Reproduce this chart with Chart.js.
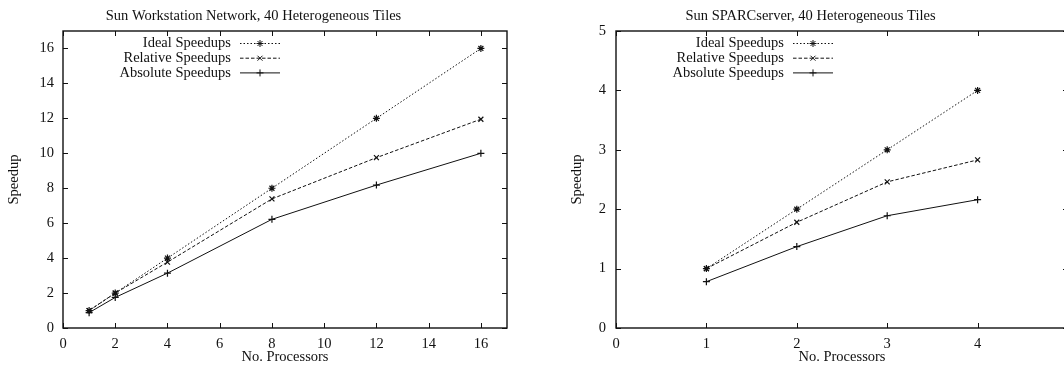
<!DOCTYPE html>
<html>
<head>
<meta charset="utf-8">
<title>Speedups</title>
<script src="https://cdn.jsdelivr.net/npm/chart.js@4.4.0/dist/chart.umd.min.js"></script>
<style>
  html, body { margin: 0; padding: 0; background: #fff; overflow: hidden; }
  body { width: 1064px; height: 365px; position: relative; }
  canvas { position: absolute; top: 0; }
  #ws-chart { left: 0; }
  #sp-chart { left: 553px; }
</style>
</head>
<body>
<canvas id="ws-chart" width="570" height="365"></canvas>
<canvas id="sp-chart" width="578" height="365"></canvas>
<script>
// ---- DATA ----
// Sun workstation network
const procsWS    = [1, 2, 4, 8, 12, 16];
const idealWS    = [1, 2, 4, 8, 12, 16];
const relativeWS = [1.0, 2.0, 3.77, 7.39, 9.75, 11.95];
const absoluteWS = [0.88, 1.75, 3.14, 6.22, 8.18, 10.0];

// Sun SPARCserver
const procsSP    = [1, 2, 3, 4];
const idealSP    = [1, 2, 3, 4];
const relativeSP = [1.0, 1.78, 2.46, 2.83];
const absoluteSP = [0.78, 1.37, 1.89, 2.16];

const seriesNames = ['Ideal Speedups', 'Relative Speedups', 'Absolute Speedups'];
const titleWS = 'Sun Workstation Network, 40 Heterogeneous Tiles';
const titleSP = 'Sun SPARCserver, 40 Heterogeneous Tiles';
const xTitle = 'No. Processors';
const yTitle = 'Speedup';

// ---- STYLE ----
const SERIF = "'Liberation Serif', 'Times New Roman', serif";
const FONT_SIZE = 14.5;
const INK = '#111';
const seriesLook = [
  { dash: [1.5, 2], point: 'star' },     // ideal: dotted
  { dash: [3.5, 2], point: 'crossRot' }, // relative: dashed
  { dash: [],       point: 'cross' }     // absolute: solid
];

// gnuplot style frame with inward ticks on all four sides
const gnuFrame = {
  id: 'gnuFrame',
  afterDraw(chart) {
    const { ctx, chartArea: a, scales: { x, y } } = chart;
    const tl = 5;
    ctx.save();
    ctx.strokeStyle = INK;
    ctx.lineWidth = 1;
    ctx.beginPath();
    x.ticks.forEach(t => {
      const px = Math.round(x.getPixelForValue(t.value)) + 0.5;
      ctx.moveTo(px, a.bottom); ctx.lineTo(px, a.bottom - tl);
      ctx.moveTo(px, a.top);    ctx.lineTo(px, a.top + tl);
    });
    y.ticks.forEach(t => {
      const py = Math.round(y.getPixelForValue(t.value)) + 0.5;
      ctx.moveTo(a.left, py);  ctx.lineTo(a.left + tl, py);
      ctx.moveTo(a.right, py); ctx.lineTo(a.right - tl, py);
    });
    ctx.stroke();
    ctx.lineWidth = 1.4;
    ctx.strokeRect(a.left, a.top, a.right - a.left, a.bottom - a.top);
    ctx.restore();
  }
};

// key: right aligned text, then line sample with marker
const gnuKey = {
  id: 'gnuKey',
  afterDatasetsDraw(chart) {
    const { ctx, chartArea: a } = chart;
    ctx.save();
    ctx.font = FONT_SIZE + 'px ' + SERIF;
    ctx.textAlign = 'right';
    ctx.textBaseline = 'middle';
    chart.data.datasets.forEach((ds, i) => {
      const yy = a.top + 12.5 + i * 14.7;
      ctx.fillStyle = INK;
      ctx.fillText(ds.label, a.left + 168, yy);
      ctx.strokeStyle = ds.borderColor;
      ctx.lineWidth = ds.borderWidth;
      ctx.setLineDash(ds.borderDash || []);
      ctx.beginPath();
      ctx.moveTo(a.left + 177, yy);
      ctx.lineTo(a.left + 217, yy);
      ctx.stroke();
      ctx.setLineDash([]);
      ctx.fillStyle = ds.pointBackgroundColor;
      Chart.helpers.drawPoint(ctx, {
        pointStyle: ds.pointStyle, radius: ds.pointRadius, borderWidth: ds.pointBorderWidth
      }, a.left + 197, yy);
    });
    ctx.restore();
  }
};

function buildDatasets(procs, seriesValues) {
  return seriesValues.map((vals, i) => ({
    label: seriesNames[i],
    data: procs.map((p, j) => ({ x: p, y: vals[j] })),
    borderColor: INK,
    borderWidth: 1,
    borderDash: seriesLook[i].dash,
    pointStyle: seriesLook[i].point,
    pointRadius: 3.5,
    pointBorderWidth: 1.2,
    pointBackgroundColor: INK,
    pointBorderColor: INK,
    tension: 0,
    fill: false
  }));
}

function makeChart(canvasId, opts) {
  const font = { family: SERIF, size: FONT_SIZE, weight: 'normal' };
  return new Chart(document.getElementById(canvasId), {
    type: 'line',
    data: { datasets: buildDatasets(opts.procs, opts.series) },
    plugins: [gnuFrame, gnuKey],
    options: {
      responsive: false,
      animation: false,
      layout: { padding: { left: 0, right: opts.padRight, top: 0, bottom: 0 } },
      plugins: {
        legend: { display: false },
        tooltip: { enabled: false },
        title: {
          display: true, text: opts.title, color: INK, font,
          padding: { top: 7.6, bottom: 6 }
        }
      },
      scales: {
        x: {
          type: 'linear', min: 0, max: opts.xMax,
          grid: { display: false, drawTicks: false }, border: { display: false },
          ticks: { stepSize: opts.xStep, includeBounds: false, padding: 7.5, color: INK, font, maxRotation: 0 },
          afterBuildTicks: s => { s.ticks = s.ticks.filter(t => t.value <= opts.xLast); },
          title: { display: true, text: xTitle, color: INK, font, padding: { top: 0, bottom: -0.5 } },
          afterFit: s => { s.height = 37; }
        },
        y: {
          type: 'linear', min: 0, max: opts.yMax,
          grid: { display: false, drawTicks: false }, border: { display: false },
          ticks: { stepSize: opts.yStep, includeBounds: false, padding: opts.yTickPad, color: INK, font },
          afterBuildTicks: s => { s.ticks = s.ticks.filter(t => t.value <= opts.yLast); },
          title: { display: true, text: yTitle, color: INK, font, padding: { top: opts.yTitlePad, bottom: 0 } },
          afterFit: s => { s.width = opts.yAxisWidth; }
        }
      }
    }
  });
}

makeChart('ws-chart', {
  procs: procsWS, series: [idealWS, relativeWS, absoluteWS], title: titleWS,
  xMax: 17, xStep: 2, xLast: 16, yMax: 17, yStep: 2, yLast: 16,
  yAxisWidth: 63, padRight: 63, yTickPad: 9, yTitlePad: 5.3
});

makeChart('sp-chart', {
  procs: procsSP, series: [idealSP, relativeSP, absoluteSP], title: titleSP,
  xMax: 5, xStep: 1, xLast: 5, yMax: 5, yStep: 1, yLast: 5,
  yAxisWidth: 63, padRight: 63, yTickPad: 10, yTitlePad: 15
});
</script>
</body>
</html>
